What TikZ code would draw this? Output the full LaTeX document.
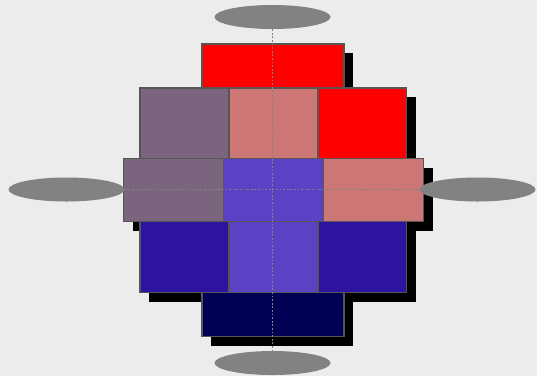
\documentclass[tikz,border=0pt]{standalone}
\usetikzlibrary{shapes.geometric}
\definecolor{bg}{HTML}{ECECEC}
\definecolor{ell}{HTML}{828282}
\definecolor{edge}{HTML}{555555}
\definecolor{cRed}{HTML}{FF0000}
\definecolor{cPink}{HTML}{CC7676}
\definecolor{cMauve}{HTML}{7A647E}
\definecolor{cViolet}{HTML}{5B42C4}
\definecolor{cBlue}{HTML}{2C14A0}
\definecolor{cNavy}{HTML}{000054}
\tikzset{
  cell/.style={draw=edge, line width=1.6pt},
  shadowbox/.style={fill=black},
  blob/.style={ellipse, fill=ell, draw=none, minimum width=116pt, minimum height=24pt, inner sep=0pt},
  guide/.style={draw=ell, line width=1.6pt, dash pattern=on 1.8pt off 1.8pt}
}
\begin{document}
\begin{tikzpicture}[x=1pt,y=-1pt]
\fill[bg] (0,0) rectangle (537,376);
\useasboundingbox (0,0) rectangle (537,376);
% row 1
\fill[shadowbox] (211,53) rectangle (353,97);
\filldraw[cell, fill=cRed] (202,44) rectangle (344,88);
% row 2
\fill[shadowbox] (149,97) rectangle (415.5,167.5);
\filldraw[cell, fill=cMauve] (140,88) rectangle (229,158.5);
\filldraw[cell, fill=cPink] (229,88) rectangle (318,158.5);
\filldraw[cell, fill=cRed] (318,88) rectangle (406.5,158.5);
% row 3
\fill[shadowbox] (132.5,167.5) rectangle (432.5,230.5);
\filldraw[cell, fill=cMauve] (123.5,158.5) rectangle (223.5,221.5);
\filldraw[cell, fill=cViolet] (223.5,158.5) rectangle (323.5,221.5);
\filldraw[cell, fill=cPink] (323.5,158.5) rectangle (423.5,221.5);
% row 4
\fill[shadowbox] (149,230.5) rectangle (415.5,301.5);
\filldraw[cell, fill=cBlue] (140,221.5) rectangle (229,292.5);
\filldraw[cell, fill=cViolet] (229,221.5) rectangle (318,292.5);
\filldraw[cell, fill=cBlue] (318,221.5) rectangle (406.5,292.5);
% row 5
\fill[shadowbox] (211,301.5) rectangle (353,345.5);
\filldraw[cell, fill=cNavy] (202,292.5) rectangle (344,336.5);
% ellipses
\node[blob] (top) at (272.5,17) {};
\node[blob] (bottom) at (272.5,363) {};
\node[blob] (left) at (66.5,189.5) {};
\node[blob] (right) at (477.5,189.5) {};
% guides
\draw[guide] (top.south) -- (bottom.north);
\draw[guide] (left.east) -- (right.west);
\end{tikzpicture}
\end{document}
